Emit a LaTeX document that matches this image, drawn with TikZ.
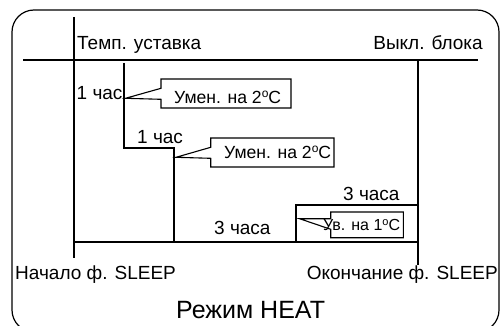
\documentclass[tikz,border=0pt]{standalone}
\usepackage{fontspec}
\setmainfont{Liberation Sans}
\usetikzlibrary{calc}
\newcommand\degsym{\raisebox{5.5pt}{\fontsize{12}{12}\selectfont o}}
\begin{document}
\begin{tikzpicture}[x=1pt,y=-1pt,
  thinline/.style={line width=1.2pt, line cap=butt},
  thickline/.style={line width=2pt, line join=miter},
  framebox/.style={line width=1.2pt},
  calloutbox/.style={line width=1.1pt, line join=miter},
  lbl/.style={inner sep=0pt, font=\fontsize{19}{22}\selectfont},
  boxlbl/.style={inner sep=0pt, font=\fontsize{17.6}{21}\selectfont},
  smalllbl/.style={inner sep=0pt, font=\fontsize{16}{19}\selectfont},
  biglbl/.style={inner sep=0pt, font=\fontsize{25}{30}\selectfont}]
\useasboundingbox (0,0) rectangle (500,326);
% outer frame
\begin{scope}
\clip (0,0) rectangle (500,326);
\draw[framebox, rounded corners=22pt] (12,10) rectangle (499,332);
\end{scope}
% axes
\coordinate (TL) at (23,60);
\coordinate (TR) at (478,60);
\coordinate (VA) at (74,17);
\coordinate (VB) at (74,258);
\coordinate (BL) at (74,242);
\coordinate (BM) at (174,242);
\coordinate (RA) at (418,60);
\coordinate (RB) at (418,265);
\draw[thinline] (TL) -- (TR);
\draw[thinline] (VA) -- (VB);
\draw[thinline] (BL) -- (BM);
\draw[line width=1.5pt] (RA) -- (RB);
% step curve
\coordinate (S0) at (124,63);
\coordinate (S1) at (124,148);
\coordinate (S2) at (174,148);
\coordinate (S3) at (174,242);
\coordinate (S4) at (296,242);
\coordinate (S5) at (296,205);
\coordinate (S6) at (418,205);
\coordinate (S7) at (418,242);
\draw[thickline] (S0) -- (S1) -- (S2) -- (S3) -- (S4) -- (S5) -- (S6);
\draw[thickline] (S4) -- (S7);
% callout 1
\coordinate (P1) at (125.5,98.3);
\draw[calloutbox] (161,79) -- (291,79) -- (291,108) -- (161,108) -- (161,99.3) -- (P1) -- (161,88.3) -- cycle;
% callout 2
\coordinate (P2) at (176,157.3);
\draw[calloutbox] (210.7,138) -- (334,138) -- (334,167) -- (210.7,167) -- (210.7,158.3) -- (P2) -- (210.7,147.3) -- cycle;
% callout 3
\coordinate (P3) at (299.5,218.7);
\draw[calloutbox] (330.7,212) -- (403.3,212) -- (403.3,237.7) -- (330.7,237.7) -- (330.7,229.3) -- (P3) -- (330.7,218.7) -- cycle;
% labels
\node[lbl, anchor=base west] (setp) at (77,50) {Темп. уставка};
\node[lbl, anchor=base east] (off) at (483,50) {Выкл. блока};
\node[lbl, anchor=base west] (h1) at (76.5,100) {1 час};
\node[boxlbl, anchor=base west] (d1) at (174,103) {Умен. на 2\degsym C};
\node[lbl, anchor=base west] (h2) at (137,143) {1 час};
\node[boxlbl, anchor=base west] (d2) at (224,158) {Умен. на 2\degsym C};
\node[lbl, anchor=base west] (h3a) at (343,200) {3 часа};
\node[lbl, anchor=base west] (h3b) at (214,234) {3 часа};
\node[smalllbl, anchor=base west] (u1) at (323,230) {Ув. на 1{\fontsize{11}{11}\selectfont\raisebox{4.5pt}{o}}C};
\node[lbl, anchor=base west] (start) at (15,279) {Начало ф. SLEEP};
\node[lbl, anchor=base east] (end) at (498,279) {Окончание ф. SLEEP};
\node[biglbl, anchor=base west] (mode) at (176,318) {Режим HEAT};
\end{tikzpicture}
\end{document}
